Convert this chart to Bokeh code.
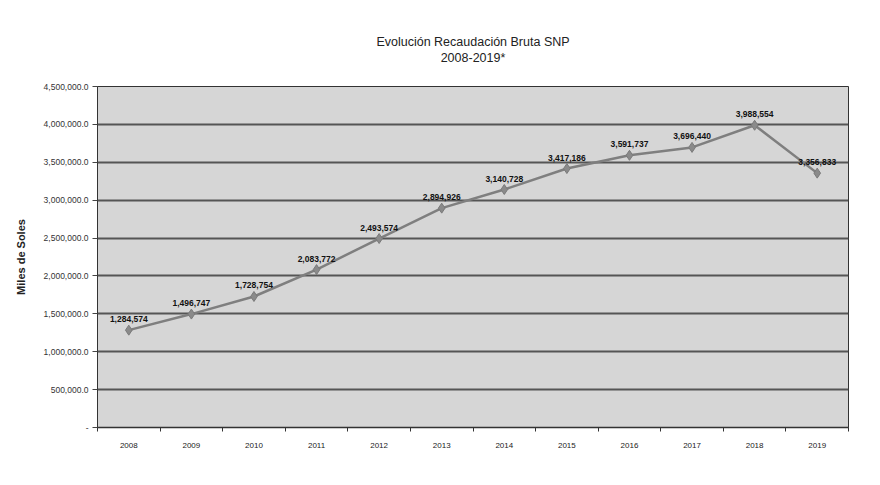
from bokeh.plotting import figure
from bokeh.models import Range1d, FixedTicker, NumeralTickFormatter, ColumnDataSource
from bokeh.core.properties import value
from bokeh.embed import file_html
from bokeh.resources import INLINE

years = ["2008", "2009", "2010", "2011", "2012", "2013", "2014", "2015", "2016", "2017", "2018", "2019"]
recaudacion = [1284574, 1496747, 1728754, 2083772, 2493574, 2894926, 3140728, 3417186, 3591737, 3696440, 3988554, 3356833]
y_ticks = [0, 500000, 1000000, 1500000, 2000000, 2500000, 3000000, 3500000, 4000000, 4500000]
title_lines = ["Evolución Recaudación Bruta SNP", "2008-2019*"]

FONT = "Liberation Sans"

xs = [i + 0.5 for i in range(len(years))]
src = ColumnDataSource(dict(x=xs, y=recaudacion,
                            lab=[f"{v:,}" for v in recaudacion]))

p = figure(width=864, height=469, output_backend="svg", toolbar_location=None,
           x_range=Range1d(0, len(years)), y_range=Range1d(0, 4500000),
           min_border_left=97, min_border_right=16, min_border_top=86, min_border_bottom=42)

p.title.text = "\n".join(title_lines)
p.title.align = "center"
p.title.text_align = "center"
p.title.text_font = FONT
p.title.text_font_size = "12.5px"
p.title.text_font_style = "normal"
p.title.text_color = "#222222"
p.title.text_line_height = 1.2
p.title.standoff = 42
p.title.offset = -18

p.background_fill_color = "#d6d6d6"
p.border_fill_color = "white"
p.outline_line_color = "#333333"
p.outline_line_width = 1

p.xgrid.grid_line_color = None
p.ygrid.grid_line_color = "#555555"
p.ygrid.grid_line_width = 2
p.ygrid.ticker = FixedTicker(ticks=y_ticks)

p.line("x", "y", source=src, line_color="#7f7f7f", line_width=2.5)
p.scatter("x", "y", source=src, marker="diamond", size=10,
          fill_color="#8a8a8a", line_color="#7a7a7a")
p.text("x", "y", text="lab", source=src, y_offset=-8,
       text_align="center", text_baseline="bottom",
       text_font=value(FONT), text_font_size="8.5px", text_font_style="bold",
       text_color="#111111")

xa = p.xaxis[0]
xa.ticker = FixedTicker(ticks=xs, minor_ticks=list(range(len(years) + 1)))
xa.major_label_overrides = {x: y for x, y in zip(xs, years)}
xa.major_tick_line_color = None
xa.minor_tick_line_color = "#333333"
xa.minor_tick_out = 4
xa.minor_tick_in = 0
xa.axis_line_color = "#333333"
xa.axis_line_width = 1.5
xa.major_label_text_font = FONT
xa.major_label_text_font_size = "8px"
xa.major_label_text_color = "#222222"
xa.major_label_standoff = 9

ya = p.yaxis[0]
ya.ticker = FixedTicker(ticks=y_ticks)
ya.formatter = NumeralTickFormatter(format="0,0.0")
ya.major_label_overrides = {0: "-"}
ya.major_tick_out = 5
ya.major_tick_in = 0
ya.minor_tick_line_color = None
ya.major_tick_line_color = "#444444"
ya.axis_line_color = "#333333"
ya.major_label_text_font = FONT
ya.major_label_text_font_size = "8.5px"
ya.major_label_text_color = "#333333"
ya.major_label_standoff = 4
ya.axis_label = "Miles de Soles"
ya.axis_label_text_font = FONT
ya.axis_label_text_font_size = "11px"
ya.axis_label_text_font_style = "bold"
ya.axis_label_text_color = "#222222"
ya.axis_label_standoff = 14

open("out.html", "w").write(file_html(p, INLINE))
